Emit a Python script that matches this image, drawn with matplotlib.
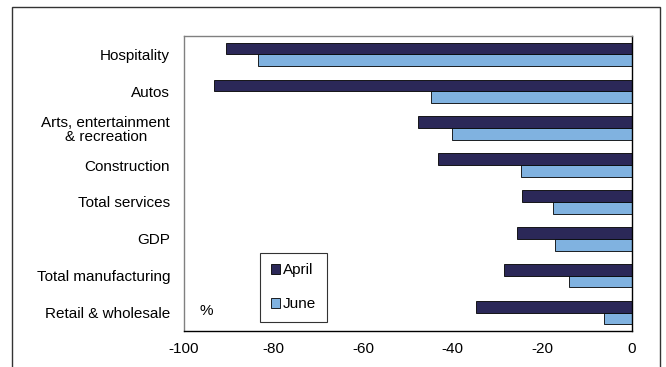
import matplotlib
matplotlib.use('Agg')
import matplotlib.pyplot as plt
import numpy as np
from matplotlib.patches import Rectangle

plt.rcParams['font.family'] = ['Liberation Sans', 'DejaVu Sans']

# Data
categories = ['Hospitality', 'Autos', 'Arts, entertainment\n& recreation', 'Construction',
              'Total services', 'GDP', 'Total manufacturing', 'Retail & wholesale']
april = [-90.7, -93.2, -47.7, -43.4, -24.5, -25.7, -28.6, -34.9]
june = [-83.4, -44.9, -40.1, -24.7, -17.6, -17.2, -14.1, -6.2]
xticks = [-100, -80, -60, -40, -20, 0]

col_april = '#2b2858'
col_june = '#80b2e0'

W, H = 666, 367
fig = plt.figure(figsize=(W / 100, H / 100), dpi=100)

# outer frame
fig.patches.append(Rectangle((11.5 / W, -0.05), (660 - 11.5) / W, 1.05 - 7 / H,
                             transform=fig.transFigure, fill=False,
                             edgecolor='#333333', linewidth=1.0))

ax = fig.add_axes([184 / W, 1 - 331 / H, (632 - 184) / W, (331 - 36) / H])

y = np.arange(len(categories))
h = 0.32
ax.barh(y - h / 2, april, height=h, color=col_april, edgecolor='black', linewidth=0.6, label='April')
ax.barh(y + h / 2, june, height=h, color=col_june, edgecolor='black', linewidth=0.6, label='June')

ax.set_xlim(-100, 0)
ax.set_ylim(len(categories) - 0.5, -0.5)
ax.set_yticks(y)
ax.set_yticklabels(categories, fontsize=11, ha='right', multialignment='center',
                   linespacing=1.0)
ax.set_xticks(xticks)
ax.set_xticklabels([str(t) for t in xticks], fontsize=11)
ax.tick_params(axis='both', length=0)
ax.tick_params(axis='y', pad=10)
ax.tick_params(axis='x', pad=8)

for s in ['left', 'top']:
    ax.spines[s].set_color('#808080')
for s in ['right', 'bottom']:
    ax.spines[s].set_color('black')
for s in ax.spines.values():
    s.set_linewidth(1.0)

ax.text(-95, 6.95, '%', fontsize=11, ha='center', va='center')

leg = ax.legend(loc='lower left', bbox_to_anchor=((260 - 184) / 448, (331 - 322) / 295),
                fontsize=11, frameon=True, fancybox=False, edgecolor='black',
                handlelength=0.6, handleheight=0.6, handletextpad=0.2,
                labelspacing=1.3, borderpad=0.7, borderaxespad=0)
leg.get_frame().set_linewidth(0.8)

fig.savefig('out.png', dpi=100)
